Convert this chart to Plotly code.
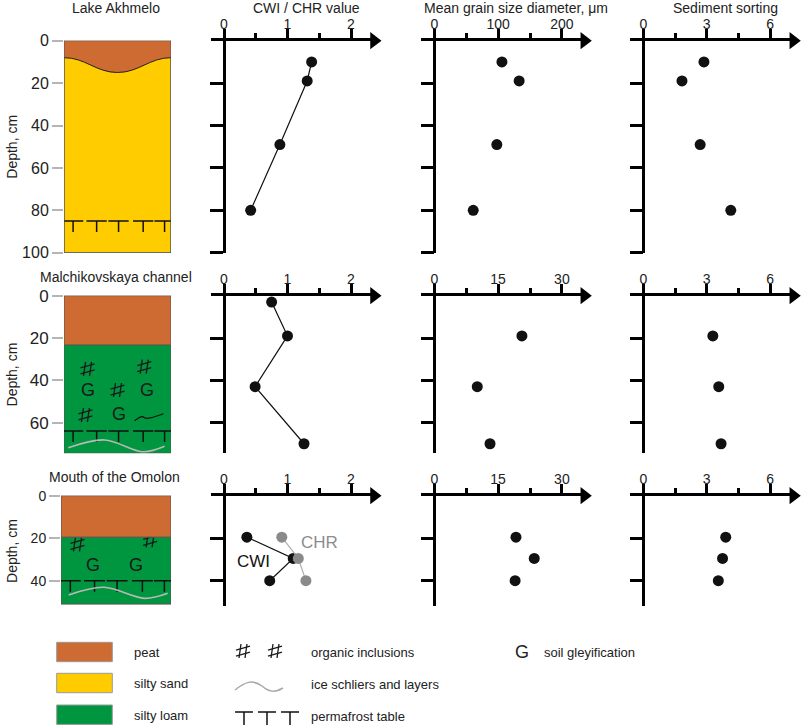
import plotly.graph_objects as go

W, H = 803, 726

# ---------------- data ----------------
site_names = ["Lake Akhmelo", "Malchikovskaya channel", "Mouth of the Omolon"]
panel_titles = ["CWI / CHR value", "Mean grain size diameter, \u03bcm", "Sediment sorting"]

# Lake Akhmelo
depth_1 = [10, 19, 49, 80]
cwi_1 = [1.38, 1.31, 0.88, 0.42]
grain_1 = [106, 133, 98, 61]
sort_1 = [2.87, 1.83, 2.69, 4.14]

# Malchikovskaya channel
depth_2_cwi = [3, 19, 43, 70]
cwi_2 = [0.75, 1.0, 0.49, 1.26]
depth_2 = [19, 43, 70]
grain_2 = [20.6, 10.1, 13.1]
sort_2 = [3.29, 3.57, 3.68]

# Mouth of the Omolon
depth_3 = [19.5, 29.5, 40]
cwi_3 = [0.36, 1.09, 0.72]
chr_3 = [0.91, 1.17, 1.29]
grain_3 = [19.2, 23.5, 19.0]
sort_3 = [3.9, 3.75, 3.55]

# x tick labels of the panels
cwi_ticks = [0, 1, 2]
grain_ticks = [[0, 100, 200], [0, 15, 30], [0, 15, 30]]
sort_ticks = [0, 3, 6]

# stratigraphy, depth in cm
profile_bottom = [100, 74.5, 51]
axis_bottom = [100, 74.5, 52]
peat_bottom = [8, 23.3, 19.5]
peat_dip_1 = 15
permafrost_depth = [85, 64, 40]
depth_ticks = [[0, 20, 40, 60, 80, 100], [0, 20, 40, 60], [0, 20, 40]]
data_depth_ticks = [[20, 40, 60, 80, 100], [20, 40, 60], [20, 40]]

# symbols inside the profiles: (x fraction of column, depth)
organic_2 = [(0.22, 34.6), (0.75, 33.5), (0.50, 44.6), (0.20, 56.4)]
gley_2 = [(0.22, 44.6), (0.78, 44.6), (0.51, 56)]
organic_3 = [(0.15, 22.9), (0.81, 21)]
gley_3 = [(0.29, 32.6), (0.68, 32.6)]
ice_wave_2 = ([0.04, 0.38, 0.74, 0.94], [71.9, 68.2, 73.8, 71.2])
ice_wave_3 = ([0.07, 0.39, 0.76, 0.97], [46.7, 43.1, 48.3, 45.9])
ice_squiggle_2 = ([0.66, 0.73, 0.77, 0.93], [59.1, 57.2, 58.0, 55.8])
t_marks = [0.085, 0.305, 0.51, 0.74, 0.94]

PEAT = "#CD6B33"
SAND = "#FFCC00"
LOAM = "#00963F"
FONT = "Liberation Sans, Arial, sans-serif"

# ---------------- geometry (pixels) ----------------
row_top = [40.7, 295.7, 495.7]
row_scale = [2.12, 2.115, 2.125]
box_px = [(64, 171), (64, 171), (61, 171)]
col_zero = [224, 434.3, 643.3]
col_major = [63.5, 63.8, 63.4]
strat_font = [16, 17, 14]
row_title_y = [8, 277, 477]


def px(x):
    return x / W


def py(y):
    return 1 - y / H


def ax_name(k, kind):
    return kind + "axis" + ("" if k == 1 else str(k))


def ref(k, kind):
    return kind + ("" if k == 1 else str(k))


def hash_glyph(cx, cy, sx, sy):
    # small slanted "#" drawn with lines; sx, sy = pixel -> data factors
    xs, ys = [], []
    for dx in (-3, 3):
        xs += [cx + (dx - 1) * sx, cx + (dx + 1) * sx, None]
        ys += [cy + 7 * sy, cy - 7 * sy, None]
    for dy in (-3, 3):
        xs += [cx - 7 * sx, cx + 7 * sx, None]
        ys += [cy + (dy + 2) * sy, cy + (dy - 2) * sy, None]
    return xs, ys


def paper_text(x, y, text, size=14, anchor="center", **kw):
    return dict(x=px(x), y=py(y), xref="paper", yref="paper", text=text, showarrow=False,
                xanchor=anchor, yanchor="middle", font=dict(size=size, color="#222"), **kw)


fig = go.Figure()
layout = {}
annotations = []
shapes = []

series = [
    [(depth_1, cwi_1), (depth_1, grain_1), (depth_1, sort_1)],
    [(depth_2_cwi, cwi_2), (depth_2, grain_2), (depth_2, sort_2)],
    [(depth_3, cwi_3), (depth_3, grain_3), (depth_3, sort_3)],
]

for r in range(3):
    top = row_top[r]
    dmax = axis_bottom[r]
    bot = top + dmax * row_scale[r]
    ydom = [py(bot), py(top)]

    # ---- stratigraphic column ----
    k = r * 4 + 1
    xr, yr = ref(k, "x"), ref(k, "y")
    layout[ax_name(k, "x")] = dict(domain=[px(box_px[r][0]), px(box_px[r][1])], range=[0, 1],
                                   visible=False, anchor=yr, automargin=False)
    layout[ax_name(k, "y")] = dict(domain=ydom, range=[dmax, 0], anchor=xr, showline=False,
                                   showgrid=False, zeroline=False, tickvals=depth_ticks[r],
                                   ticks="outside", ticklen=11, tickwidth=1.5, tickcolor="#b5b5b5",
                                   tickfont=dict(size=strat_font[r], color="#222"),
                                   automargin=False)
    main = SAND if r == 0 else LOAM
    shapes.append(dict(type="rect", xref=xr, yref=yr, x0=0, x1=1, y0=0, y1=profile_bottom[r],
                       fillcolor=main, line=dict(color="#555", width=1), layer="below"))
    if r == 0:
        pb, pd = peat_bottom[0], peat_dip_1
        shapes.append(dict(type="path", xref=xr, yref=yr, fillcolor=PEAT, line=dict(width=0),
                           path=f"M 0,0 L 1,0 L 1,{pb} C 0.8,{pb} 0.7,{pd} 0.5,{pd} "
                                f"C 0.3,{pd} 0.2,{pb} 0,{pb} Z", layer="below"))
        shapes.append(dict(type="path", xref=xr, yref=yr, line=dict(color="#222", width=1),
                           path=f"M 0,{pb} C 0.2,{pb} 0.3,{pd} 0.5,{pd} C 0.7,{pd} 0.8,{pb} 1,{pb}"))
        shapes.append(dict(type="rect", xref=xr, yref=yr, x0=0, x1=1, y0=0, y1=profile_bottom[r],
                           line=dict(color="#555", width=1)))
    else:
        shapes.append(dict(type="rect", xref=xr, yref=yr, x0=0, x1=1, y0=0, y1=peat_bottom[r],
                           fillcolor=PEAT, line=dict(color="#555", width=1)))

    # permafrost table
    pf = permafrost_depth[r]
    tx, ty = [], []
    for m in t_marks:
        tx += [m - 0.095, m + 0.095, None, m, m, None]
        ty += [pf, pf, None, pf, pf + 5.2, None]
    fig.add_trace(go.Scatter(x=tx, y=ty, xaxis=xr, yaxis=yr, mode="lines",
                             line=dict(color="#111", width=1.5), hoverinfo="skip"))

    if r > 0:
        wave = ice_wave_2 if r == 1 else ice_wave_3
        fig.add_trace(go.Scatter(x=wave[0], y=wave[1], xaxis=xr, yaxis=yr, mode="lines",
                                 line=dict(color="#b8b8b8", width=1.6, shape="spline"),
                                 hoverinfo="skip"))
        organic = organic_2 if r == 1 else organic_3
        gley = gley_2 if r == 1 else gley_3
        sx = 1 / (box_px[r][1] - box_px[r][0])
        sy = 1 / row_scale[r]
        hx, hy = [], []
        for (gx, gy) in organic:
            a, b = hash_glyph(gx, gy, sx, sy)
            hx += a
            hy += b
        fig.add_trace(go.Scatter(x=hx, y=hy, xaxis=xr, yaxis=yr, mode="lines",
                                 line=dict(color="#1a1a1a", width=1.3), hoverinfo="skip"))
        for (gx, gy) in gley:
            annotations.append(dict(x=gx, y=gy, xref=xr, yref=yr, text="G", showarrow=False,
                                    xanchor="center", yanchor="middle",
                                    font=dict(size=18, color="#1a1a1a", family=FONT)))
    if r == 1:
        fig.add_trace(go.Scatter(x=ice_squiggle_2[0], y=ice_squiggle_2[1], xaxis=xr, yaxis=yr,
                                 mode="lines", line=dict(color="#111", width=1.2, shape="spline"),
                                 hoverinfo="skip"))

    annotations.append(paper_text(sum(box_px[r]) / 2 - 2, row_title_y[r], site_names[r]))
    annotations.append(paper_text(12, (top + bot) / 2, "Depth, cm", textangle=-90))

    # ---- data panels ----
    for c in range(3):
        k = r * 4 + c + 2
        xr, yr = ref(k, "x"), ref(k, "y")
        ticks = [cwi_ticks, grain_ticks[r], sort_ticks][c]
        step = ticks[1] - ticks[0]
        unit = col_major[c] / step
        z = col_zero[c]
        x_end = 150 / unit
        layout[ax_name(k, "x")] = dict(
            domain=[px(z - 13), px(z + 150)], range=[-13 / unit, x_end], side="top", anchor=yr,
            showline=True, linewidth=2.5, linecolor="black", showgrid=False, zeroline=False,
            tickvals=ticks, ticks="outside", ticklen=9, tickwidth=2.5, tickcolor="black",
            tickfont=dict(size=14, color="#222"), ticklabelstandoff=-6, automargin=False,
            minor=dict(tickvals=[t + step / 2 for t in ticks[:-1]], ticks="outside", ticklen=5,
                       tickwidth=2.5, tickcolor="black", showgrid=False))
        layout[ax_name(k, "y")] = dict(
            domain=ydom, range=[dmax, 0], anchor="free", position=px(z), showline=True,
            linewidth=2.5, linecolor="black", showgrid=False, zeroline=False,
            tickvals=data_depth_ticks[r], ticks="outside", ticklen=13, tickwidth=2.5,
            tickcolor="black", showticklabels=False, automargin=False)
        # arrowhead at the end of the value axis
        fig.add_trace(go.Scatter(x=[x_end], y=[0], xaxis=xr, yaxis=yr, mode="markers",
                                 marker=dict(symbol="triangle-right", size=15, color="black"),
                                 cliponaxis=False, hoverinfo="skip"))
        d, v = series[r][c]
        if c == 0:
            fig.add_trace(go.Scatter(x=v, y=d, xaxis=xr, yaxis=yr, mode="lines+markers",
                                     line=dict(color="#111", width=1.2),
                                     marker=dict(size=11, color="#111"), cliponaxis=False))
            if r == 2:
                fig.add_trace(go.Scatter(x=chr_3, y=depth_3, xaxis=xr, yaxis=yr,
                                         mode="lines+markers",
                                         line=dict(color="#b0b0b0", width=1.2),
                                         marker=dict(size=11, color="#8a8a8a"), cliponaxis=False))
                annotations.append(dict(x=0.46, y=30.8, xref=xr, yref=yr, text="CWI",
                                        showarrow=False, xanchor="center", yanchor="middle",
                                        font=dict(size=17, color="#111")))
                annotations.append(dict(x=1.5, y=22, xref=xr, yref=yr, text="CHR",
                                        showarrow=False, xanchor="center", yanchor="middle",
                                        font=dict(size=17, color="#8c8c8c")))
        else:
            fig.add_trace(go.Scatter(x=v, y=d, xaxis=xr, yaxis=yr, mode="markers",
                                     marker=dict(size=11, color="#111"), cliponaxis=False))
        if r == 0:
            annotations.append(paper_text(z + 82, 8, panel_titles[c]))

# ---------------- legend ----------------
legend_fill = [("peat", PEAT, 642.3), ("silty sand", SAND, 673.3), ("silty loam", LOAM, 705)]
for name, col, y0 in legend_fill:
    shapes.append(dict(type="rect", xref="paper", yref="paper", x0=px(56.7), x1=px(112.3),
                       y0=py(y0 + 19.4), y1=py(y0), fillcolor=col,
                       line=dict(color="#999", width=1)))
    annotations.append(paper_text(132, y0 + 10, name, size=13, anchor="left"))

legend_text = [("organic inclusions", 652), ("ice schliers and layers", 684), ("permafrost table", 716)]
for name, y in legend_text:
    annotations.append(paper_text(309, y, name, size=13, anchor="left"))
for x in [243, 275]:
    xs, ys = hash_glyph(x, 651, 1, 1)
    for i in range(0, len(xs), 3):
        shapes.append(dict(type="line", xref="paper", yref="paper", x0=px(xs[i]),
                           x1=px(xs[i + 1]), y0=py(ys[i]), y1=py(ys[i + 1]),
                           line=dict(color="#1a1a1a", width=1.3)))
annotations.append(paper_text(522, 652, "G", size=18))
annotations.append(paper_text(542, 652, "soil gleyification", size=13, anchor="left"))
shapes.append(dict(type="path", xref="paper", yref="paper", line=dict(color="#a8a8a8", width=1.5),
                   path=f"M {px(235)},{py(690)} C {px(245)},{py(682)} {px(252)},{py(679)} "
                        f"{px(262)},{py(686)} C {px(270)},{py(693)} {px(276)},{py(692)} "
                        f"{px(283)},{py(688)}"))
for x in [244, 267, 290]:
    shapes.append(dict(type="line", xref="paper", yref="paper", x0=px(x - 9), x1=px(x + 9),
                       y0=py(712), y1=py(712), line=dict(color="#111", width=1.5)))
    shapes.append(dict(type="line", xref="paper", yref="paper", x0=px(x), x1=px(x),
                       y0=py(712), y1=py(725), line=dict(color="#111", width=1.5)))

fig.update_layout(**layout)
fig.update_layout(width=W, height=H, margin=dict(l=0, r=0, t=0, b=0, pad=0), showlegend=False,
                  paper_bgcolor="white", plot_bgcolor="rgba(0,0,0,0)",
                  font=dict(family=FONT, color="#222"),
                  annotations=annotations, shapes=shapes)

fig.write_html("out.html", config={"displayModeBar": False},
               post_script="document.body.style.margin = '0px';")
